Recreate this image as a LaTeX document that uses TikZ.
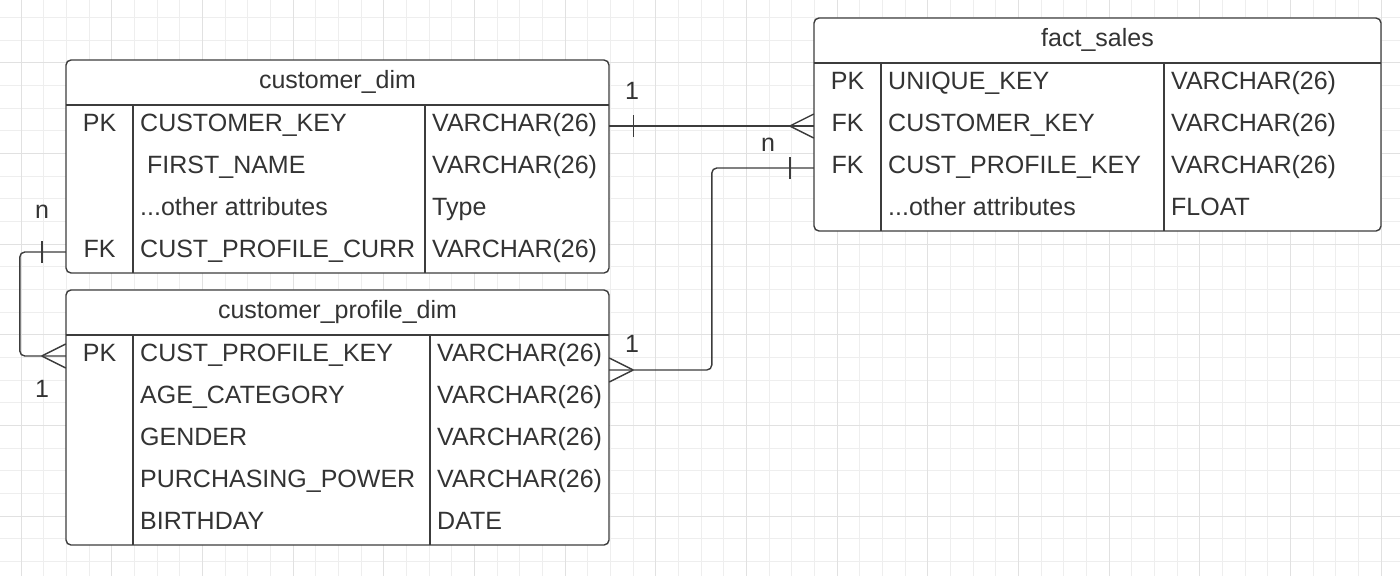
\documentclass[tikz,border=0pt]{standalone}
\usepackage{fontspec}
\setmainfont{Liberation Sans}
\definecolor{inkgray}{HTML}{333333}
\definecolor{framegray}{HTML}{3C3C3C}
\definecolor{gridminor}{HTML}{EEEEEE}
\definecolor{gridmajor}{HTML}{E1E1E1}
\tikzset{
  every node/.style={font=\fontsize{25}{30}\selectfont, text=inkgray, inner sep=0pt},
  tbl/.style={draw=framegray, fill=white, line width=1.4pt, rounded corners=5pt},
  sep/.style={draw=framegray, line width=1.2pt},
  conn/.style={draw=framegray, line width=1.4pt},
  rowbox/.style={minimum width=#1, minimum height=42pt},
  cell/.style={anchor=base west},
  keycell/.style={anchor=base},
  card/.style={anchor=base},
}
\begin{document}
\begin{tikzpicture}[x=1pt, y=-1pt]
\useasboundingbox (0,0) rectangle (1400,576);
% background grid
\foreach \k in {0,...,60} \draw[gridminor, line width=1pt] ({21+22.667*\k},0) -- ++(0,576);
\foreach \k in {0,...,24} \draw[gridminor, line width=1pt] (0,{17.5+22.667*\k}) -- ++(1400,0);
\foreach \k in {0,4,...,60} \draw[gridmajor, line width=1pt] ({21+22.667*\k},0) -- ++(0,576);
\foreach \k in {2,6,...,22} \draw[gridmajor, line width=1pt] (0,{17.5+22.667*\k}) -- ++(1400,0);

% customer_dim
\draw[tbl] (66,60) rectangle (609,273);
\draw[sep] (66,105) -- (609,105);
\draw[sep] (133,105) -- (133,273);
\draw[sep] (425,105) -- (425,273);
\node[keycell] (cd-head) at (337.5,88) {customer\_dim};
\node[rowbox=543pt] (cd-r1) at (337.5,126) {};
\node[rowbox=543pt] (cd-r2) at (337.5,168) {};
\node[rowbox=543pt] (cd-r3) at (337.5,210) {};
\node[rowbox=543pt] (cd-r4) at (337.5,252) {};
\node[keycell] (cd-k1) at (99.5,131) {PK};
\node[cell] (cd-n1) at (140,131) {CUSTOMER\_KEY};
\node[cell] (cd-t1) at (432,131) {VARCHAR(26)};
\node[cell] (cd-n2) at (140,173) {\ FIRST\_NAME};
\node[cell] (cd-t2) at (432,173) {VARCHAR(26)};
\node[cell] (cd-n3) at (140,215) {...other attributes};
\node[cell] (cd-t3) at (432,215) {Type};
\node[keycell] (cd-k4) at (99.5,257) {FK};
\node[cell] (cd-n4) at (140,257) {CUST\_PROFILE\_CURR};
\node[cell] (cd-t4) at (432,257) {VARCHAR(26)};

% customer_profile_dim
\draw[tbl] (66,290) rectangle (609,545);
\draw[sep] (66,335) -- (609,335);
\draw[sep] (133,335) -- (133,545);
\draw[sep] (430,335) -- (430,545);
\node[keycell] (cp-head) at (337.5,318) {customer\_profile\_dim};
\node[rowbox=543pt] (cp-r1) at (337.5,356) {};
\node[keycell] (cp-k1) at (99.5,361) {PK};
\node[cell] (cp-n1) at (140,361) {CUST\_PROFILE\_KEY};
\node[cell] (cp-t1) at (437,361) {VARCHAR(26)};
\node[cell] (cp-n2) at (140,403) {AGE\_CATEGORY};
\node[cell] (cp-t2) at (437,403) {VARCHAR(26)};
\node[cell] (cp-n3) at (140,445) {GENDER};
\node[cell] (cp-t3) at (437,445) {VARCHAR(26)};
\node[cell] (cp-n4) at (140,487) {PURCHASING\_POWER};
\node[cell] (cp-t4) at (437,487) {VARCHAR(26)};
\node[cell] (cp-n5) at (140,529) {BIRTHDAY};
\node[cell] (cp-t5) at (437,529) {DATE};

% fact_sales
\draw[tbl] (814,18) rectangle (1381,231);
\draw[sep] (814,63) -- (1381,63);
\draw[sep] (881,63) -- (881,231);
\draw[sep] (1164,63) -- (1164,231);
\node[keycell] (fs-head) at (1097.5,46) {fact\_sales};
\node[rowbox=567pt] (fs-r1) at (1097.5,84) {};
\node[rowbox=567pt] (fs-r2) at (1097.5,126) {};
\node[rowbox=567pt] (fs-r3) at (1097.5,168) {};
\node[rowbox=567pt] (fs-r4) at (1097.5,210) {};
\node[keycell] (fs-k1) at (847.5,89) {PK};
\node[cell] (fs-n1) at (888,89) {UNIQUE\_KEY};
\node[cell] (fs-t1) at (1171,89) {VARCHAR(26)};
\node[keycell] (fs-k2) at (847.5,131) {FK};
\node[cell] (fs-n2) at (888,131) {CUSTOMER\_KEY};
\node[cell] (fs-t2) at (1171,131) {VARCHAR(26)};
\node[keycell] (fs-k3) at (847.5,173) {FK};
\node[cell] (fs-n3) at (888,173) {CUST\_PROFILE\_KEY};
\node[cell] (fs-t3) at (1171,173) {VARCHAR(26)};
\node[cell] (fs-n4) at (888,215) {...other attributes};
\node[cell] (fs-t4) at (1171,215) {FLOAT};

% customer_dim -> fact_sales
\draw[conn] (cd-r1.east) -- (fs-r2.west);
\draw[conn] ([xshift=24pt]cd-r1.east) ++(0,-11) -- ++(0,22);
\foreach \d in {-12,12} \draw[conn] ([xshift=-24pt]fs-r2.west) -- ([yshift=\d pt]fs-r2.west);
\node[card] (lbl-cd1) at (632,99) {1};
\node[card] (lbl-fsn) at (768,151) {n};

% fact_sales -> customer_profile_dim
\draw[conn, rounded corners=5pt] (fs-r3.west) -- ++(-102,0) |- ([yshift=-14pt]cp-r1.east);
\draw[conn] ([xshift=-24pt]fs-r3.west) ++(0,-11) -- ++(0,22);
\foreach \d in {-26,-2} \draw[conn] ([xshift=24pt, yshift=-14pt]cp-r1.east) -- ([yshift=\d pt]cp-r1.east);
\node[card] (lbl-cp1) at (632,352) {1};

% customer_dim -> customer_profile_dim
\draw[conn, rounded corners=5pt] (cd-r4.west) -- ++(-46,0) |- (cp-r1.west);
\draw[conn] ([xshift=-24pt]cd-r4.west) ++(0,-11) -- ++(0,22);
\foreach \d in {-12,12} \draw[conn] ([xshift=-24pt]cp-r1.west) -- ([yshift=\d pt]cp-r1.west);
\node[card] (lbl-cdn) at (42,218) {n};
\node[card] (lbl-cp2) at (42,397) {1};
\end{tikzpicture}
\end{document}
